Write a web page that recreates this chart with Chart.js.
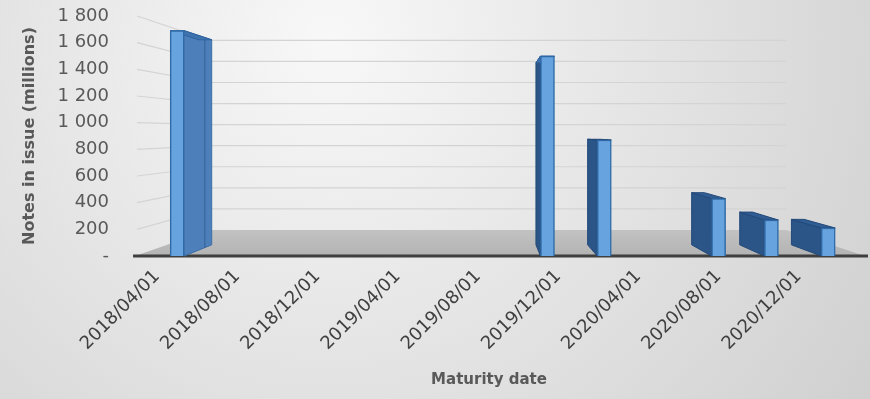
<!DOCTYPE html>
<html>
<head>
<meta charset="utf-8">
<script src="https://cdn.jsdelivr.net/npm/chart.js@4/dist/chart.umd.min.js"></script>
<style>
  html, body { margin: 0; padding: 0; background: #e6e6e6; }
  #wrap { width: 870px; height: 399px; }
</style>
</head>
<body>
<div id="wrap"><canvas id="c" width="870" height="399"></canvas></div>
<script>
// ---- data ----
const tickLabels = ['2018/04/01','2018/08/01','2018/12/01','2019/04/01','2019/08/01','2019/12/01','2020/04/01','2020/08/01','2020/12/01'];
const maturityDates = ['2018/05/01','2019/11/15','2020/02/10','2020/08/01','2020/10/20','2021/01/15'];
const notesInIssue = [1690, 1500, 870, 430, 270, 210];
const yTicks = [0, 200, 400, 600, 800, 1000, 1200, 1400, 1600, 1800];

// months elapsed since the first tick date
function monthsFrom(start, d) {
  const [y0, m0, d0] = start.split('/').map(Number);
  const [y1, m1, d1] = d.split('/').map(Number);
  return (y1 - y0) * 12 + (m1 - m0) + (d1 - d0) / 30;
}
const maturityMonths = maturityDates.map(d => monthsFrom(tickLabels[0], d));

function fmt(v) {
  if (v === 0) return '-';
  if (v >= 1000) return Math.floor(v / 1000) + ' ' + String(v % 1000).padStart(3, '0');
  return String(v);
}

// perspective helpers
const VP = { x: 490, y: 132 };
const WALL_T = 0.21, BAR_T = 0.09;
const FLOOR_MIN = -1.1;   // floor starts a little before the first tick (months)
function proj(x, y, t) { return [x + t * (VP.x - x), y + t * (VP.y - y)]; }
function poly(ctx, pts, fill, stroke) {
  ctx.beginPath();
  ctx.moveTo(pts[0][0], pts[0][1]);
  for (let i = 1; i < pts.length; i++) ctx.lineTo(pts[i][0], pts[i][1]);
  ctx.closePath();
  ctx.fillStyle = fill; ctx.fill();
  if (stroke) { ctx.strokeStyle = stroke; ctx.lineWidth = 1; ctx.stroke(); }
}

const scene = {
  id: 'scene',
  beforeDraw(chart) {
    const ctx = chart.ctx, w = chart.width, h = chart.height;
    const g = ctx.createRadialGradient(330, 40, 0, 330, 40, 760);
    g.addColorStop(0, '#f8f8f8');
    g.addColorStop(1, '#c9c9c9');
    ctx.save(); ctx.fillStyle = g; ctx.fillRect(0, 0, w, h); ctx.restore();
  },
  beforeDatasetsDraw(chart) {
    const ctx = chart.ctx, a = chart.chartArea, ys = chart.scales.y, xs = chart.scales.x;
    const L = xs.getPixelForValue(FLOOR_MIN), R = a.right;
    ctx.save();
    // back wall + left wall gridlines
    ctx.strokeStyle = '#d4d4d4'; ctx.lineWidth = 1.2;
    yTicks.forEach(v => {
      if (v === 0) return;
      const yf = ys.getPixelForValue(v);
      const bl = proj(L, yf, WALL_T);
      const br = proj(R, yf, WALL_T);
      ctx.beginPath();
      ctx.moveTo(L + 2, yf);
      ctx.lineTo(bl[0], bl[1]);
      ctx.lineTo(br[0], bl[1]);
      ctx.stroke();
    });
    // floor
    const y0 = ys.getPixelForValue(0);
    const fbl = proj(L, y0, WALL_T), fbr = proj(R, y0, WALL_T);
    const fg = ctx.createLinearGradient(0, fbl[1], 0, y0);
    fg.addColorStop(0, '#c2c2c2'); fg.addColorStop(1, '#b3b3b3');
    poly(ctx, [[L, y0], fbl, fbr, [R, y0]], fg);
    // floor front edge
    ctx.strokeStyle = '#3f3f3f'; ctx.lineWidth = 3;
    ctx.beginPath(); ctx.moveTo(L - 2, y0); ctx.lineTo(R + 3, y0); ctx.stroke();

    // 3D side / top faces of bars (behind the front faces drawn by Chart.js)
    const meta = chart.getDatasetMeta(0);
    meta.data.forEach(el => {
      const p = el.getProps(['x', 'y', 'base', 'width'], true);
      const xl = p.x - p.width / 2, xr = p.x + p.width / 2, yt = p.y, yb = p.base;
      if (xr < VP.x) {
        poly(ctx, [[xr, yt], proj(xr, yt, BAR_T), proj(xr, yb, BAR_T), [xr, yb]], '#4d80ba', '#3a6ea8');
        const m1 = proj(xr, yt, BAR_T * 0.75), m2 = proj(xr, yb, BAR_T * 0.75);
        ctx.strokeStyle = 'rgba(40,80,130,0.45)'; ctx.lineWidth = 1.5;
        ctx.beginPath(); ctx.moveTo(m1[0], m1[1]); ctx.lineTo(m2[0], m2[1]); ctx.stroke();
      }
      if (xl > VP.x) {
        poly(ctx, [[xl, yt], proj(xl, yt, BAR_T), proj(xl, yb, BAR_T), [xl, yb]], '#2b5587', '#23497a');
      }
      if (yt > VP.y) {
        poly(ctx, [[xl, yt], [xr, yt], proj(xr, yt, BAR_T), proj(xl, yt, BAR_T)], '#2f5d93', '#23497a');
      } else {
        poly(ctx, [[xl, yt], [xr, yt], proj(xr, yt, BAR_T), proj(xl, yt, BAR_T)], '#3f73ad', '#2e62a0');
      }
    });
    ctx.restore();
  }
};

Chart.defaults.font.family = '"DejaVu Sans", "Liberation Sans", sans-serif';

new Chart(document.getElementById('c'), {
  type: 'bar',
  data: {
    datasets: [{
      label: 'Notes in issue',
      data: maturityMonths.map((m, i) => ({ x: m, y: notesInIssue[i] })),
      backgroundColor: (ctx) => {
        const ch = ctx.chart, el = ctx.element;
        if (!el || !ch.chartArea || !Number.isFinite(el.x)) return '#66a3df';
        const x = el.x, w = 14;
        const g = ch.ctx.createLinearGradient(x - w / 2, 0, x + w / 2, 0);
        g.addColorStop(0, '#5a98d6'); g.addColorStop(0.5, '#7bb6ea'); g.addColorStop(1, '#5f9cd8');
        return g;
      },
      borderColor: '#2f6aa6',
      borderWidth: 1.5,
      barThickness: 14
    }]
  },
  options: {
    responsive: false,
    animation: false,
    layout: { padding: { top: 16, right: 5, left: 0, bottom: 0 } },
    plugins: { legend: { display: false }, tooltip: { enabled: false } },
    scales: {
      x: {
        type: 'linear',
        offset: false,
        min: -2.2, max: 35.3,
        grid: { display: false, offset: false },
        border: { display: false },
        afterBuildTicks: (s) => { s.ticks = tickLabels.map((_, i) => ({ value: i * 4 })); },
        afterFit: (s) => { s.height = 143; },
        ticks: {
          autoSkip: false, minRotation: 45, maxRotation: 45, padding: 2,
          color: '#404040', font: { size: 18 },
          callback: (v) => tickLabels[Math.round(v / 4)]
        },
        title: {
          display: true, text: 'Maturity date', color: '#595959',
          font: { size: 15, weight: 'bold' }, padding: { top: 0, bottom: 10 }
        }
      },
      y: {
        min: 0, max: 1800,
        grid: { display: false, drawTicks: false },
        border: { display: false },
        afterBuildTicks: (s) => { s.ticks = yTicks.map(v => ({ value: v })); },
        afterFit: (s) => { s.width = 113; },
        ticks: { autoSkip: false, color: '#595959', font: { size: 18 }, padding: 4, callback: (v) => fmt(v) },
        title: {
          display: true, text: 'Notes in issue (millions)', color: '#595959',
          font: { size: 16, weight: 'bold' }, padding: { top: 20, bottom: 0 }
        }
      }
    }
  },
  plugins: [scene]
});
</script>
</body>
</html>
